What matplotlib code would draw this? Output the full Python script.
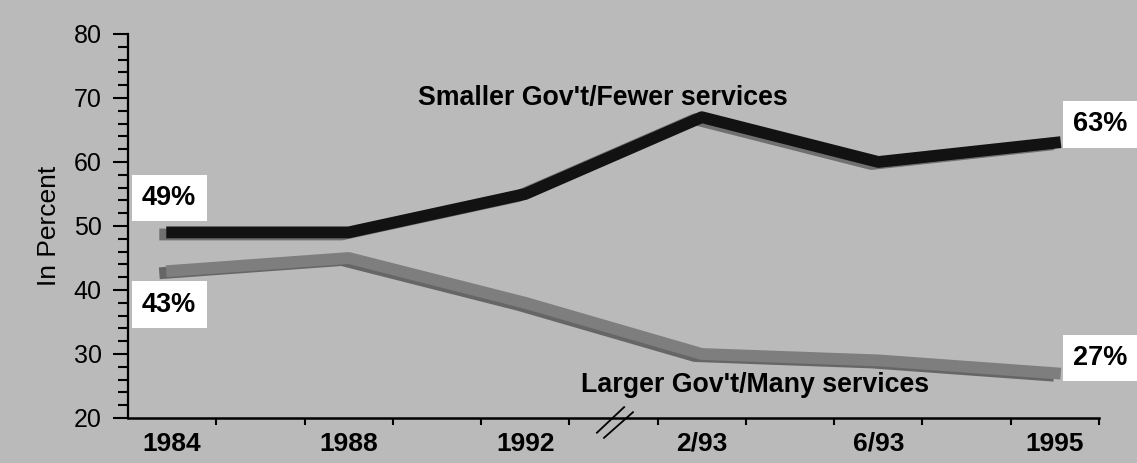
import matplotlib
matplotlib.use('Agg')
import matplotlib.pyplot as plt
import matplotlib.patheffects as pe
import numpy as np

plt.rcParams['font.family'] = ['Liberation Sans', 'DejaVu Sans']

# data
periods = ['1984', '1988', '1992', '2/93', '6/93', '1995']
smaller_gov = [49, 49, 55, 67, 60, 63]
larger_gov = [43, 45, 38, 30, 29, 27]

x = np.arange(len(periods))
bg = '#bababa'

fig = plt.figure(figsize=(11.37, 4.63), dpi=100, facecolor=bg)
ax = fig.add_axes([0.1126, 0.0972, 0.854, 0.8294])
ax.set_facecolor('none')

# lines with a soft drop shadow
ax.plot(x, larger_gov, color='#7e7e7e', lw=8.5, solid_capstyle='projecting',
        solid_joinstyle='round',
        path_effects=[pe.SimpleLineShadow(offset=(-5, -1.5), shadow_color='#666666', alpha=1),
                      pe.Normal()])
ax.plot(x, smaller_gov, color='#121212', lw=8.5, solid_capstyle='projecting',
        solid_joinstyle='round',
        path_effects=[pe.SimpleLineShadow(offset=(-5, -1.5), shadow_color='#707070', alpha=1),
                      pe.Normal()])

ax.set_xlim(-0.25, len(periods) - 0.75)
ax.set_ylim(20, 80)

# axes styling
for side in ['top', 'right']:
    ax.spines[side].set_visible(False)
ax.spines['left'].set_linewidth(1.6)
ax.spines['bottom'].set_linewidth(1.8)

ax.set_yticks(np.arange(20, 81, 10))
ax.set_yticks(np.arange(20, 81, 2), minor=True)
ax.tick_params(axis='y', which='major', length=11, width=1.5, pad=8,
               labelsize=18)
ax.tick_params(axis='y', which='minor', length=7, width=1.5)

ax.set_xticks(x)
ax.set_xticklabels(periods, fontweight='bold')
ax.set_xticks(np.arange(0.25, len(periods) - 0.5, 0.5), minor=True)
ax.tick_params(axis='x', which='major', length=0, pad=10, labelsize=19)
ax.tick_params(axis='x', which='minor', length=5, width=1.5)

ax.set_ylabel('In Percent', fontsize=19, labelpad=9)

# axis break mark between 1992 and 2/93
ax.plot([2.406, 2.56], [17.7, 21.7], color='black', lw=1.3, clip_on=False)
ax.plot([2.446, 2.61], [16.9, 20.9], color='black', lw=1.3, clip_on=False)

# series labels
ax.text(2.44, 68.9, "Smaller Gov't/Fewer services", fontsize=19.3,
        fontweight='bold', ha='center', va='baseline')
ax.text(3.30, 24.0, "Larger Gov't/Many services", fontsize=19.3,
        fontweight='bold', ha='center', va='baseline')

# end value boxes
box = dict(boxstyle='square,pad=0.38', facecolor='white', edgecolor='none')
ax.text(-0.017, 54.4, f'{smaller_gov[0]}%', fontsize=19.5, fontweight='bold',
        ha='center', va='center', bbox=box)
ax.text(-0.017, 37.7, f'{larger_gov[0]}%', fontsize=19.5, fontweight='bold',
        ha='center', va='center', bbox=box)
ax.text(5.256, 65.9, f'{smaller_gov[-1]}%', fontsize=19.5, fontweight='bold',
        ha='center', va='center', bbox=box, clip_on=False)
ax.text(5.256, 29.4, f'{larger_gov[-1]}%', fontsize=19.5, fontweight='bold',
        ha='center', va='center', bbox=box, clip_on=False)

fig.savefig('out.png', dpi=100, facecolor=bg)
